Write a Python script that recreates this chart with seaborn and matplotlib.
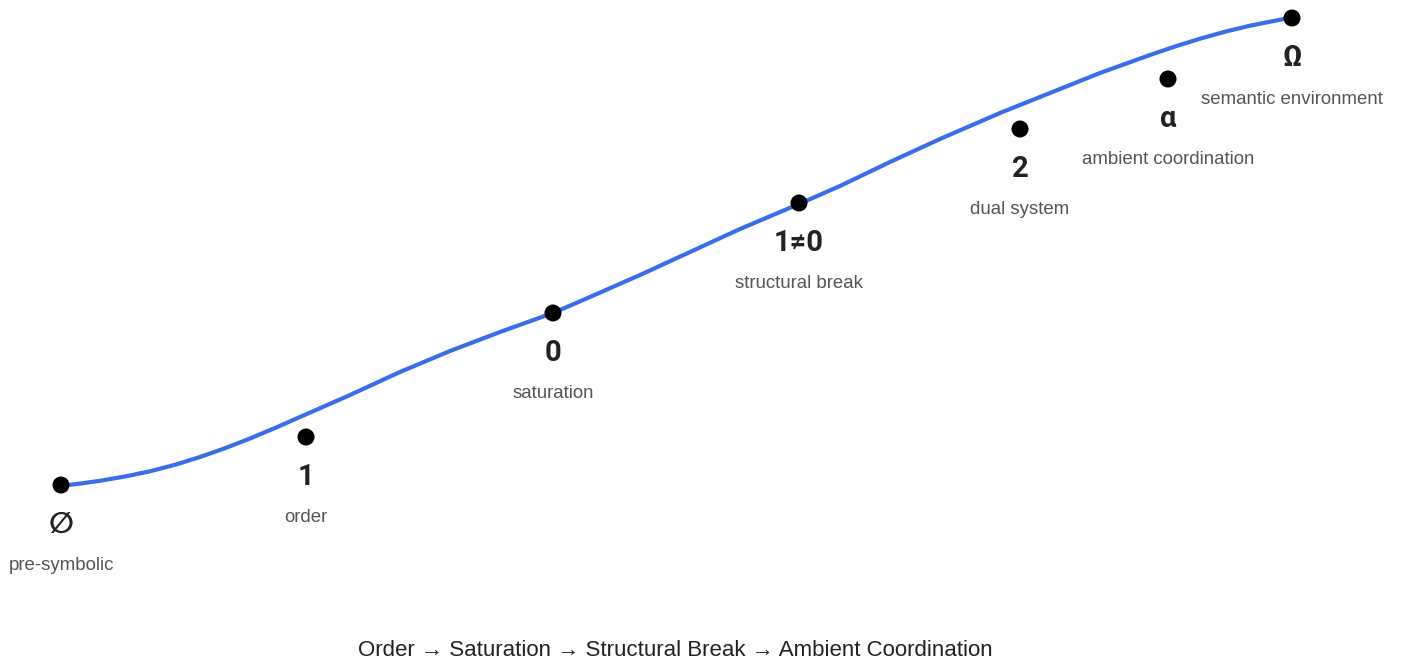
"""Траєкторія стадій: від пре-символічного до семантичного середовища."""

import matplotlib

matplotlib.use("Agg")
import matplotlib.pyplot as plt
import pandas as pd
import seaborn as sns

# стадії (позиції зчитані з картинки, y росте вгору)
stage_symbols = ["∅", "1", "0", "1≠0", "2", "α", "Ω"]
stage_names = [
    "pre-symbolic",
    "order",
    "saturation",
    "structural break",
    "dual system",
    "ambient coordination",
    "semantic environment",
]
stage_x = [61, 306, 553, 799, 1020, 1168, 1292]
stage_y = [179, 227, 351, 461, 535, 585, 646]

# точки кривої (густіше там, де вона гнеться)
curve_x = [60, 80, 100, 125, 150, 175, 200, 225, 250, 275, 300, 350, 400, 450,
           500, 553, 590, 640, 690, 740, 799, 840, 890, 940, 1000, 1050, 1100,
           1150, 1175, 1200, 1225, 1250, 1270, 1292]
curve_y = [178, 180.4, 183.2, 187.5, 192.7, 199.2, 207, 215.8, 225.5, 236, 247,
           269, 292, 313, 332, 351, 367, 389, 412, 435, 460, 478, 502, 525, 551,
           571, 591, 609, 617.5, 625.3, 632.3, 638.3, 642.3, 646.5]

caption = "Order → Saturation → Structural Break → Ambient Coordination"

sns.set_theme(style="white")
plt.rcParams["font.family"] = ["Liberation Sans", "DejaVu Sans"]

stages = pd.DataFrame({"x": stage_x, "y": stage_y, "symbol": stage_symbols, "name": stage_names})
curve = pd.DataFrame({"x": curve_x, "y": curve_y})

fig = plt.figure(figsize=(14.02, 6.64), dpi=100)
axis = fig.add_axes([0, 0, 1, 1])

sns.lineplot(data=curve, x="x", y="y", color="#3b6ee6", linewidth=3.0, sort=False,
             solid_joinstyle="round", solid_capstyle="round", ax=axis, zorder=2)
sns.scatterplot(data=stages, x="x", y="y", color="black", s=150, edgecolor="none", ax=axis, zorder=3)

for row in stages.itertuples():
    axis.text(row.x, row.y - 40, row.symbol, ha="center", va="center",
              fontsize=21, fontweight="bold", color="#222222",
              family=["Roboto", "DejaVu Sans"])
    axis.text(row.x, row.y - 81, row.name, ha="center", va="center",
              fontsize=13.4, color="#555555")

axis.text(675, 13, caption, ha="center", va="center", fontsize=16, color="#222222")

axis.set_xlim(0, 1402)
axis.set_ylim(0, 664)
axis.axis("off")

fig.savefig("out.png", dpi=100)
plt.close(fig)
